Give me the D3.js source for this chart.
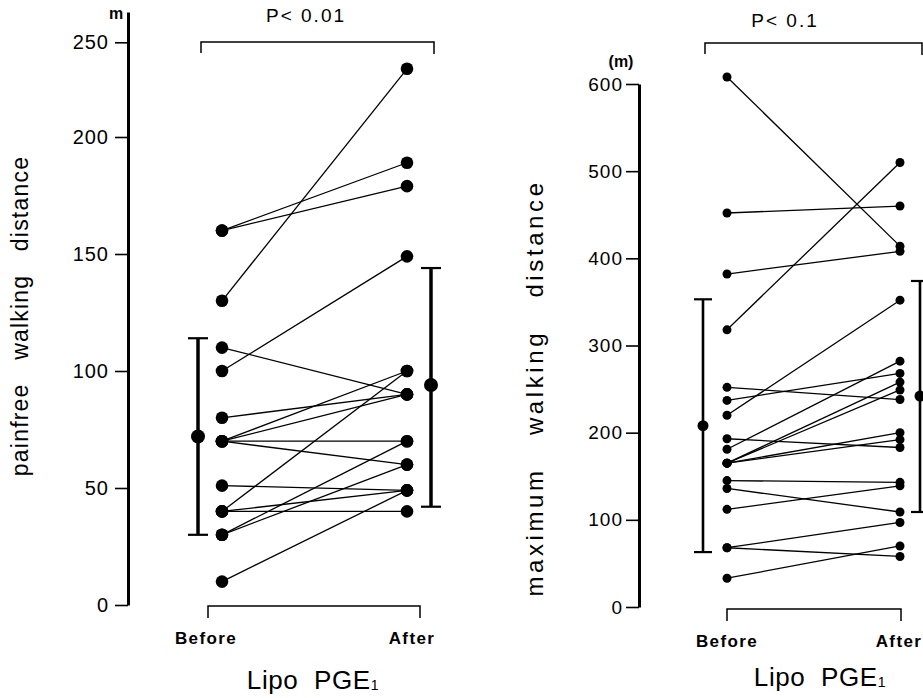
<!DOCTYPE html>
<html>
<head>
<meta charset="utf-8">
<script src="https://cdn.jsdelivr.net/npm/d3@7"></script>
<style>
  body { margin: 0; background: #fff; }
  svg { display: block; }
  svg text { font-family: "Liberation Sans", Arial, sans-serif; fill: #000; }
</style>
</head>
<body>
<div id="chart"></div>
<script>
// categories
const groups = ["Before", "After"];

// painfree walking distance (m), one entry per patient
const painBefore = [160, 160, 130, 100, 110, 80, 70, 70, 70, 70, 51, 40, 40, 40, 30, 30, 10];
const painAfter  = [189, 179, 236, 149, 90, 90, 100, 90, 70, 60, 49, 100, 49, 40, 70, 60, 49];
const painMean = [72, 94];
const painLow  = [30, 42];
const painHigh = [114, 144];
const painTicks = [0, 50, 100, 150, 200, 250];

// maximum walking distance (m)
const maxBefore = [608, 452, 382, 318, 252, 237, 220, 193, 181, 165, 165, 165, 165, 145, 136, 112, 68, 68, 33];
const maxAfter  = [414, 460, 408, 510, 238, 268, 352, 183, 282, 258, 249, 200, 192, 143, 109, 139, 97, 58, 70];
const maxMean = [208, 242];
const maxLow  = [63, 109];
const maxHigh = [353, 374];
const maxTicks = [0, 100, 200, 300, 400, 500, 600];

const width = 923, height = 698;
const svg = d3.select("#chart").append("svg")
  .attr("width", width).attr("height", height);

function drawPanel(p) {
  const g = svg.append("g");
  const x = d3.scalePoint().domain(groups).range(p.xRange);
  const y = d3.scaleLinear().domain(p.yDomain).range(p.yRange);

  // axis
  const axis = g.append("g")
    .attr("transform", `translate(${p.axisX},0)`)
    .call(d3.axisLeft(y).tickValues(p.ticks).tickSize(p.tickLen).tickSizeOuter(0).tickPadding(p.tickPad));
  axis.attr("font-family", null).attr("font-size", null);
  axis.select(".domain").attr("stroke", "#000").attr("stroke-width", 3);
  axis.selectAll(".tick line").attr("stroke", "#000").attr("stroke-width", 1.6);
  axis.selectAll(".tick text")
    .style("font-size", p.tickFont + "px").style("letter-spacing", "1px");

  // unit
  g.append("text").attr("x", p.unitPos[0]).attr("y", p.unitPos[1])
    .attr("text-anchor", "middle").style("font-size", "16px").style("font-weight", "bold")
    .text(p.unit);

  // y title
  g.append("text")
    .attr("transform", `translate(${p.titlePos[0]},${p.titlePos[1]}) rotate(-90)`)
    .attr("text-anchor", "middle").attr("dominant-baseline", "middle")
    .style("font-size", p.titleFont + "px").style("word-spacing", p.wordSpace + "px")
    .style("letter-spacing", p.letterSpace + "px")
    .text(p.title);

  // paired lines
  const pairs = p.before.map((b, i) => [b, p.after[i]]);
  g.selectAll(".pair").data(pairs).enter().append("line")
    .attr("x1", x("Before")).attr("x2", x("After"))
    .attr("y1", d => y(d[0])).attr("y2", d => y(d[1]))
    .attr("stroke", "#000").attr("stroke-width", 1.3);

  g.selectAll(".dotB").data(p.before).enter().append("circle")
    .attr("cx", x("Before")).attr("cy", d => y(d)).attr("r", p.r);
  g.selectAll(".dotA").data(p.after).enter().append("circle")
    .attr("cx", x("After")).attr("cy", d => y(d)).attr("r", p.r);

  // mean +- SD
  groups.forEach((k, i) => {
    const mx = x(k) + p.meanOffset[i];
    g.append("line").attr("x1", mx).attr("x2", mx)
      .attr("y1", y(p.low[i])).attr("y2", y(p.high[i]))
      .attr("stroke", "#000").attr("stroke-width", p.barW);
    [p.low[i], p.high[i]].forEach(v => {
      g.append("line").attr("x1", mx - p.capW / 2).attr("x2", mx + p.capW / 2)
        .attr("y1", y(v)).attr("y2", y(v))
        .attr("stroke", "#000").attr("stroke-width", 2.2);
    });
    g.append("circle").attr("cx", mx).attr("cy", y(p.mean[i])).attr("r", p.meanR);
  });

  // top bracket with p-value
  const tb = p.topBracket;
  g.append("path")
    .attr("d", `M${tb[0]},${tb[2] + 11}V${tb[2]}H${tb[1]}V${tb[2] + 12}`)
    .attr("fill", "none").attr("stroke", "#000").attr("stroke-width", 1.5);
  g.append("text").attr("x", p.pPos[0]).attr("y", p.pPos[1])
    .attr("text-anchor", "middle").style("font-size", "19px").style("letter-spacing", "2px")
    .text(p.pText);

  // bottom bracket and group labels
  const bb = p.botBracket;
  g.append("path")
    .attr("d", `M${bb[0]},${bb[2] + 12}V${bb[2]}H${bb[1]}V${bb[2] + 12}`)
    .attr("fill", "none").attr("stroke", "#000").attr("stroke-width", 1.5);
  groups.forEach((k, i) => {
    g.append("text").attr("x", p.labelX[i]).attr("y", bb[2] + 38)
      .attr("text-anchor", "middle").style("font-size", "17px").style("font-weight", "bold")
      .style("letter-spacing", "1.4px")
      .text(k);
  });

  const lt = g.append("text").attr("x", p.lipoPos[0]).attr("y", p.lipoPos[1])
    .attr("text-anchor", "middle").style("font-size", "26px").style("letter-spacing", "0.6px");
  lt.append("tspan").text("Lipo\u00a0\u00a0PGE");
  lt.append("tspan").attr("dy", 1).style("font-size", "14px").text("1");
}

drawPanel({
  before: painBefore, after: painAfter, mean: painMean, low: painLow, high: painHigh,
  ticks: painTicks, yDomain: [0, 200, 266], yRange: [605, 137, 12],
  xRange: [222, 407], axisX: 128, tickLen: 13, tickPad: 6, tickFont: 20,
  unit: "m", unitPos: [116, 19],
  title: "painfree walking distance", titlePos: [22, 316], titleFont: 23, wordSpace: 16, letterSpace: 1.2,
  r: 6.3, meanR: 7, meanOffset: [-24, 24], barW: 3.5, capW: 20,
  topBracket: [201, 434, 42], pPos: [306, 22], pText: "P< 0.01",
  botBracket: [208, 420, 606], labelX: [206, 412], lipoPos: [313, 689]
});

drawPanel({
  before: maxBefore, after: maxAfter, mean: maxMean, low: maxLow, high: maxHigh,
  ticks: maxTicks, yDomain: [0, 600], yRange: [607, 84],
  xRange: [727, 900], axisX: 639, tickLen: 13, tickPad: 3, tickFont: 19,
  unit: "(m)", unitPos: [621, 67],
  title: "maximum walking distance", titlePos: [537, 388], titleFont: 24, wordSpace: 22, letterSpace: 3.6,
  r: 4.5, meanR: 5.5, meanOffset: [-24, 20], barW: 2.6, capW: 18,
  topBracket: [705, 922, 43], pPos: [785, 27], pText: "P< 0.1",
  botBracket: [727, 901, 609], labelX: [727, 899], lipoPos: [820, 686]
});
</script>
</body>
</html>
